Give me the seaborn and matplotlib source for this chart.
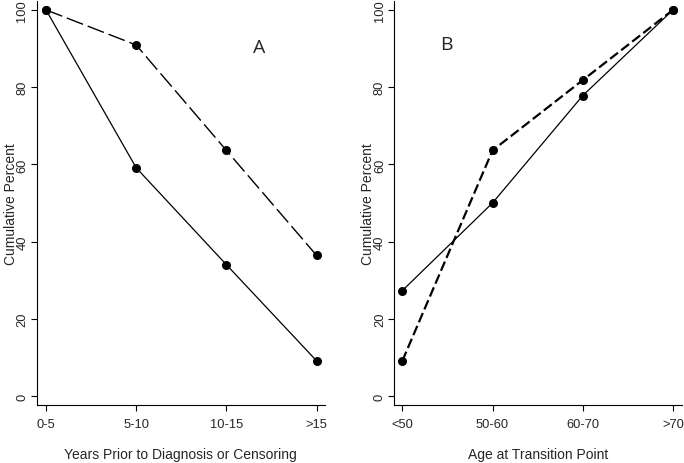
import matplotlib
matplotlib.use("Agg")
import matplotlib.pyplot as plt
import pandas as pd
import seaborn as sns

# panel A: years prior to diagnosis or censoring
years_cats = ["0-5", "5-10", "10-15", ">15"]
years_solid = [100.0, 59.1, 34.0, 9.1]
years_dashed = [100.0, 90.9, 63.6, 36.4]

# panel B: age at transition point
age_cats = ["<50", "50-60", "60-70", ">70"]
age_solid = [27.3, 50.0, 77.8, 100.0]
age_dashed = [9.1, 63.6, 81.8, 100.0]

yticks = [0, 20, 40, 60, 80, 100]

sns.set_style("white")
plt.rcParams["font.family"] = ["Liberation Sans", "DejaVu Sans"]

fig = plt.figure(figsize=(6.84, 4.64), dpi=100)
W, H = 684, 464
ax_a = fig.add_axes([36.7 / W, 1 - 406 / H, (325 - 36.7) / W, 404 / H])
ax_b = fig.add_axes([394.3 / W, 1 - 406 / H, (682 - 394.3) / W, 404 / H])


def draw(ax, cats, solid, dashed, dash_pat, dash_lw, xlabel, letter, letter_x, letter_y):
    solid_df = pd.DataFrame({"cat": cats, "value": solid})
    dashed_df = pd.DataFrame({"cat": cats, "value": dashed})
    sns.lineplot(data=dashed_df, x="cat", y="value", ax=ax, color="black",
                 linewidth=dash_lw, marker="o", markersize=6.5, markeredgewidth=0,
                 sort=False)
    ax.lines[-1].set_dashes(dash_pat)
    sns.lineplot(data=solid_df, x="cat", y="value", ax=ax, color="black",
                 linewidth=0.9, marker="o", markersize=6.5, markeredgewidth=0,
                 sort=False)
    ax.set_ylim(-2.33, 102.3)
    ax.set_yticks(yticks)
    sns.despine(ax=ax)
    ax.tick_params(axis="both", direction="out", length=4, width=0.8,
                   labelsize=9.3, color="black", left=True, bottom=True)
    ax.tick_params(axis="y", pad=2)
    ax.tick_params(axis="x", pad=5.5)
    for lbl in ax.get_yticklabels():
        lbl.set_rotation(90)
        lbl.set_va("center")
    for sp in ("left", "bottom"):
        ax.spines[sp].set_color("black")
        ax.spines[sp].set_linewidth(0.8)
    ax.set_xlabel(xlabel, fontsize=10, labelpad=12)
    ax.set_ylabel("Cumulative Percent", fontsize=10, labelpad=-1)
    ax.text(letter_x, letter_y, letter, transform=ax.transAxes, fontsize=14,
            family=["Open Sans", "DejaVu Sans"], ha="center", va="center")


draw(ax_a, years_cats, years_solid, years_dashed, (12.5, 3.6), 1.0,
     "Years Prior to Diagnosis or Censoring", "A", (259 - 36.7) / 288.3, 1 - 46 / 404)
draw(ax_b, age_cats, age_solid, age_dashed, (4.5, 1.8), 1.6,
     "Age at Transition Point", "B", (446 - 394.3) / 287.7, 1 - 43 / 404)
ax_a.set_xlim(-0.103, 3.093)
ax_b.set_xlim(-0.089, 3.10)

fig.savefig("out.png", dpi=100)
